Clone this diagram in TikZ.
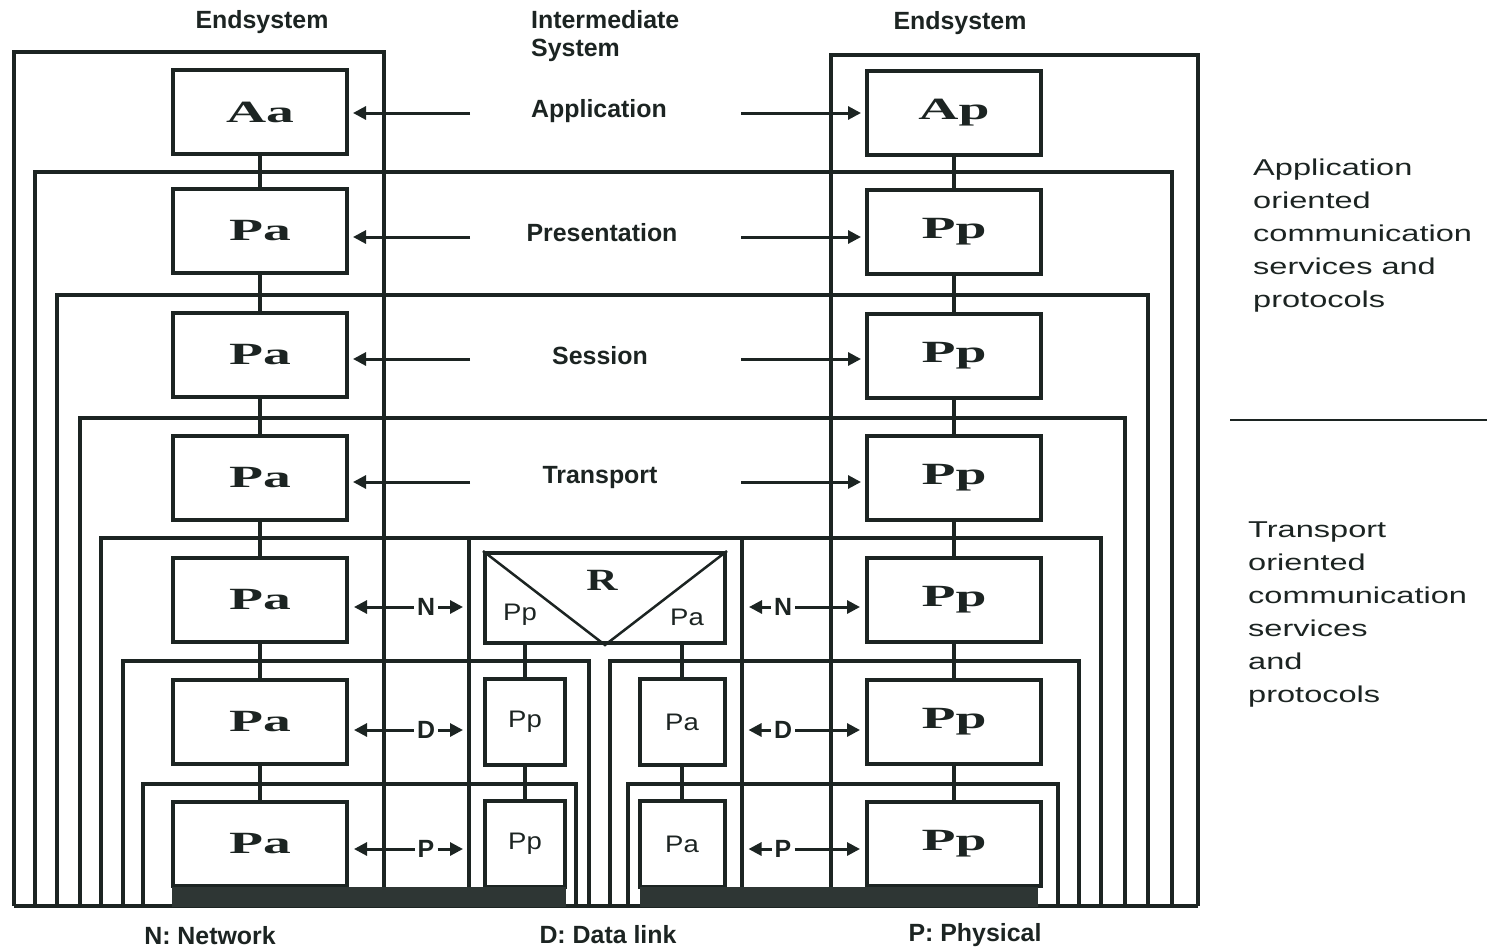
\documentclass[tikz,border=0pt]{standalone}
\usepackage{fontspec}
\setmainfont{Liberation Sans}
\newfontfamily\boxfont{Liberation Serif}
\usetikzlibrary{arrows.meta}
\definecolor{ink}{RGB}{28,36,34}
\newcommand\bxlbl[1]{\scalebox{1.8}[1]{#1}}
\newcommand\wtxt[1]{\scalebox{1.42}[1]{#1}}
\begin{document}
\begin{tikzpicture}[x=1bp,y=-1bp,
  layerbox/.style={draw=ink, line width=4bp, minimum width=174bp, minimum height=84bp, inner sep=0pt,
     text=ink, font=\boxfont\bfseries\fontsize{31}{31}\selectfont},
  subbox/.style={draw=ink, line width=4bp, minimum height=86bp, inner sep=0pt,
     text=ink, font=\fontsize{24}{24}\selectfont},
  frame/.style={draw=ink, line width=3.5bp, line join=miter},
  conn/.style={draw=ink, line width=3.5bp},
  arr/.style={draw=ink, line width=3bp, -{Triangle[length=13bp,width=13bp]}},
  lbl/.style={text=ink, font=\bfseries\fontsize{25}{28}\selectfont, inner sep=3bp},
  side/.style={text=ink, font=\fontsize{23}{33}\selectfont, align=left, inner sep=0pt, anchor=north west},
]
\useasboundingbox (0,0) rectangle (1487,950);

% ---------- frames (nested layer enclosures) ----------
\draw[frame] (14,906) -- (14,52) -- (384,52) -- (384,906);
\draw[frame] (831,906) -- (831,55) -- (1198,55) -- (1198,906);
\draw[frame] (35,906) -- (35,172) -- (1172,172) -- (1172,906);
\draw[frame] (57,906) -- (57,295) -- (1148,295) -- (1148,906);
\draw[frame] (80,906) -- (80,418) -- (1125,418) -- (1125,906);
\draw[frame] (101,906) -- (101,538) -- (1101,538) -- (1101,906);
\draw[frame] (469,538) -- (469,906);
\draw[frame] (742,538) -- (742,906);
\draw[frame] (123,906) -- (123,661) -- (589,661) -- (589,906);
\draw[frame] (610,906) -- (610,661) -- (1079,661) -- (1079,906);
\draw[frame] (143,906) -- (143,784) -- (576,784) -- (576,906);
\draw[frame] (628,906) -- (628,784) -- (1058,784) -- (1058,906);
\draw[frame] (14,906) -- (1198,906);

% ---------- end system boxes ----------
\node[layerbox] (L1) at (260,112) {\bxlbl{Aa}};
\node[layerbox] (L2) at (260,231) {\bxlbl{Pa}};
\node[layerbox] (L3) at (260,355) {\bxlbl{Pa}};
\node[layerbox] (L4) at (260,478) {\bxlbl{Pa}};
\node[layerbox] (L5) at (260,600) {\bxlbl{Pa}};
\node[layerbox] (L6) at (260,722) {\bxlbl{Pa}};
\node[layerbox] (L7) at (260,844) {\bxlbl{Pa}};

\node[layerbox] (R1) at (954,113) {\bxlbl{Ap}};
\node[layerbox] (R2) at (954,232) {\bxlbl{Pp}};
\node[layerbox] (R3) at (954,356) {\bxlbl{Pp}};
\node[layerbox] (R4) at (954,478) {\bxlbl{Pp}};
\node[layerbox] (R5) at (954,600) {\bxlbl{Pp}};
\node[layerbox] (R6) at (954,722) {\bxlbl{Pp}};
\node[layerbox] (R7) at (954,844) {\bxlbl{Pp}};

\foreach \a/\b in {1/2,2/3,3/4,4/5,5/6,6/7}{
  \draw[conn] (L\a.south) -- (L\b.north);
  \draw[conn] (R\a.south) -- (R\b.north);
}

% ---------- intermediate system (router) ----------
\node[draw=ink, line width=4bp, minimum width=240bp, minimum height=90bp, inner sep=0pt] (rt) at (605,598) {};
\draw[draw=ink, line width=2.5bp] (rt.north west) -- (rt.south) -- (rt.north east);
\node[text=ink, font=\boxfont\bfseries\fontsize{31}{31}\selectfont] (rtR) at (602,580) {\scalebox{1.4}[1]{R}};
\node[text=ink, font=\fontsize{24}{24}\selectfont] (rtP) at (520,615) {\scalebox{1.15}[1]{Pp}};
\node[text=ink, font=\fontsize{24}{24}\selectfont] (rtA) at (687,617) {\scalebox{1.15}[1]{Pa}};

\node[subbox, minimum width=80bp] (rp1) at (525,722) {\scalebox{1.15}[1]{Pp}};
\node[subbox, minimum width=80bp] (rp2) at (525,844) {\scalebox{1.15}[1]{Pp}};
\node[subbox, minimum width=85bp] (ra1) at (682,722) {\scalebox{1.15}[1]{Pa}};
\node[subbox, minimum width=85bp] (ra2) at (682,844) {\scalebox{1.15}[1]{Pa}};
\draw[conn] (rp1.north) -- (rp1.north |- rt.south);
\draw[conn] (rp1.south) -- (rp2.north);
\draw[conn] (ra1.north) -- (ra1.north |- rt.south);
\draw[conn] (ra1.south) -- (ra2.north);

% ---------- physical medium ----------
\fill[ink!92] (172,887) rectangle (566,907);
\fill[ink!92] (640,887) rectangle (1038,907);

% ---------- peer protocol arrows ----------
\node[lbl] (t1) at (599,111) {Application};
\node[lbl] (t2) at (602,233) {Presentation};
\node[lbl] (t3) at (600,356) {Session};
\node[lbl] (t4) at (600,478) {Transport};
\foreach \i/\y in {1/113,2/237,3/359,4/482}{
  \coordinate (aL\i) at (470,\y);
  \coordinate (aR\i) at (741,\y);
  \draw[arr, shorten >=4bp] (aL\i) -- (aL\i -| L\i.east);
  \draw[arr, shorten >=4bp] (aR\i) -- (aR\i -| R\i.west);
}

\node[lbl] (nl) at (426,607) {N};
\node[lbl] (nr) at (783,607) {N};
\node[lbl] (dl) at (426,730) {D};
\node[lbl] (dr) at (783,730) {D};
\node[lbl] (pl) at (426,849) {P};
\node[lbl] (pr) at (783,849) {P};
\draw[arr, shorten >=5bp] (nl.west) -- (nl.west -| L5.east);
\draw[arr, shorten >=20bp] (nl.east) -- (nl.east -| rt.west);
\draw[arr, shorten >=22bp] (nr.west) -- (nr.west -| rt.east);
\draw[arr, shorten >=5bp] (nr.east) -- (nr.east -| R5.west);
\draw[arr, shorten >=5bp] (dl.west) -- (dl.west -| L6.east);
\draw[arr, shorten >=20bp] (dl.east) -- (dl.east -| rp1.west);
\draw[arr, shorten >=22bp] (dr.west) -- (dr.west -| ra1.east);
\draw[arr, shorten >=5bp] (dr.east) -- (dr.east -| R6.west);
\draw[arr, shorten >=5bp] (pl.west) -- (pl.west -| L7.east);
\draw[arr, shorten >=20bp] (pl.east) -- (pl.east -| rp2.west);
\draw[arr, shorten >=22bp] (pr.west) -- (pr.west -| ra2.east);
\draw[arr, shorten >=5bp] (pr.east) -- (pr.east -| R7.west);

% ---------- headings ----------
\node[lbl] (es1) at (262,22) {Endsystem};
\node[lbl, align=left, anchor=west, font=\bfseries\fontsize{25}{28}\selectfont] (is) at (528,36) {Intermediate\\System};
\node[lbl] (es2) at (960,23) {Endsystem};
\node[lbl] (bN) at (210,936) {N: Network};
\node[lbl] (bD) at (608,935) {D: Data link};
\node[lbl] (bP) at (975,935) {P: Physical};

% ---------- side texts ----------
\node[side] (sA) at (1253,159) {\wtxt{Application}\\\wtxt{oriented}\\\wtxt{communication}\\\wtxt{services and}\\\wtxt{protocols}};
\draw[draw=ink, line width=2.5bp] (1230,420) -- (1487,420);
\node[side] (sT) at (1248,522) {\wtxt{Transport}\\\wtxt{oriented}\\\wtxt{communication}\\\wtxt{services}\\\wtxt{and}\\\wtxt{protocols}};
\end{tikzpicture}
\end{document}
